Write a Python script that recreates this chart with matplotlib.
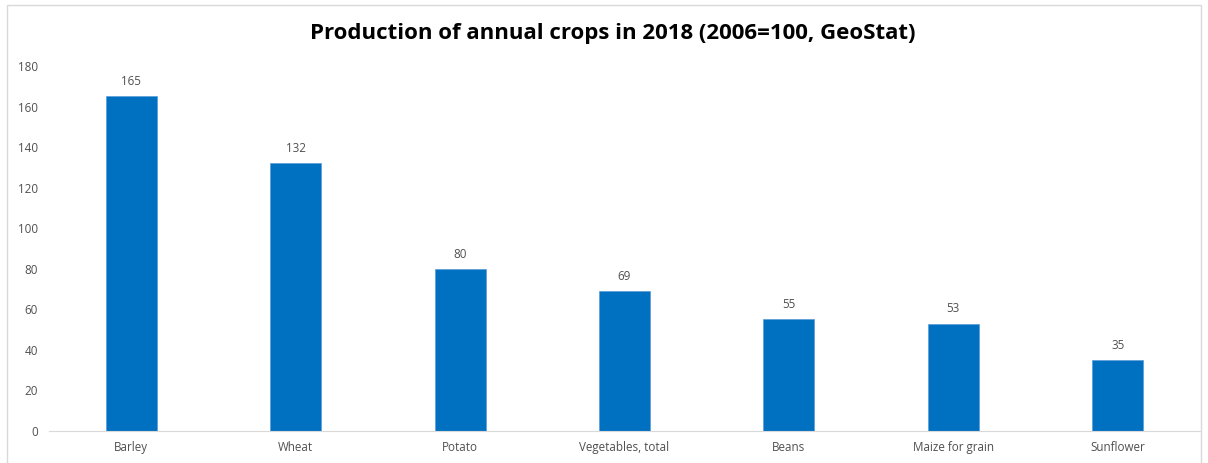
import matplotlib.pyplot as plt
from matplotlib.patches import Rectangle

crops = ["Barley", "Wheat", "Potato", "Vegetables, total", "Beans", "Maize for grain", "Sunflower"]
index_2018 = [165, 132, 80, 69, 55, 53, 35]
y_ticks = [0, 20, 40, 60, 80, 100, 120, 140, 160, 180]

plt.rcParams['font.family'] = ['Open Sans', 'DejaVu Sans']
grey = '#505050'

fig = plt.figure(figsize=(12.08, 4.63), dpi=100)
ax = fig.add_axes([49/1208, 32/463, 1151/1208, 365/463])

x = range(len(crops))
bars = ax.bar(x, index_2018, width=0.31, color='#0070C0', edgecolor='#5B9BD5', linewidth=0.5)
for xi, v in zip(x, index_2018):
    ax.text(xi, v + 4, str(v), ha='center', va='bottom', fontsize=8.4, color=grey)

ax.set_xlim(-0.5, len(crops) - 0.5)
ax.set_ylim(0, 180)
ax.set_yticks(y_ticks)
ax.set_xticks(list(x))
ax.set_xticklabels(crops)
ax.tick_params(axis='both', length=0, labelsize=8.4, colors=grey)
ax.tick_params(axis='y', pad=8)
ax.tick_params(axis='x', pad=7)
for side in ['top', 'right', 'left']:
    ax.spines[side].set_visible(False)
ax.spines['bottom'].set_color('#D9D9D9')

fig.suptitle("Production of annual crops in 2018 (2006=100, GeoStat)", x=613/1208, y=1 - 33/463,
             va='center', fontsize=16, fontweight='bold', color='black')

# outer chart frame
fig.patches.append(Rectangle((7/1208, -0.05), 1194/1208, 1 - 5/463 + 0.05, transform=fig.transFigure,
                             fill=False, edgecolor='#D9D9D9', linewidth=1))

fig.savefig('out.png', dpi=100)
